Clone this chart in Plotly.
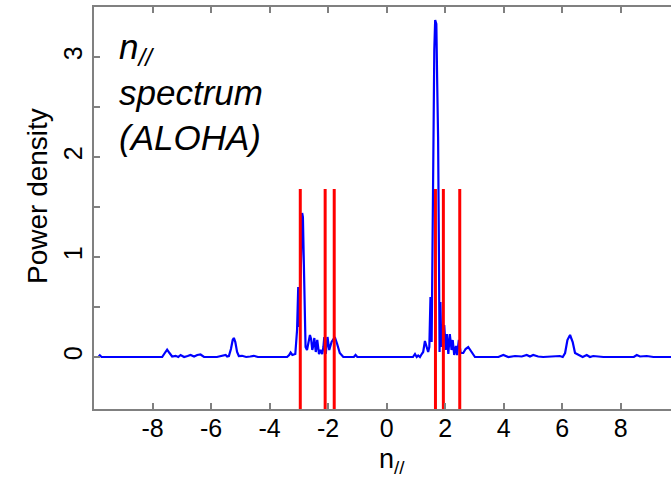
import plotly.graph_objects as go

# ---- data ----
n_par = [-10.0, -9.85, -9.80, -9.74, -9.6, -7.67, -7.58, -7.50, -7.42, -7.33, -7.21, -7.12,
         -7.04, -6.92, -6.80, -6.70, -6.58, -6.47, -6.36, -6.24, -5.80, -5.50, -5.45, -5.39,
         -5.32, -5.26, -5.22, -5.17, -5.11, -5.05, -4.94, -4.80, -4.66, -4.54, -4.40, -3.40,
         -3.33, -3.28, -3.22, -3.12, -3.06, -3.02, -2.98, -2.94, -2.91, -2.885, -2.86, -2.84,
         -2.82, -2.80, -2.77, -2.72, -2.68, -2.62, -2.58, -2.54, -2.50, -2.47, -2.42, -2.37,
         -2.31, -2.26, -2.20, -2.16, -2.13, -2.08, -2.02, -1.96, -1.88, -1.82, -1.77, -1.69,
         -1.60, -1.48, -1.30, -1.12, -1.06, -1.00, -0.90,
         0.90, 0.97, 1.03, 1.08, 1.14, 1.20, 1.25, 1.31, 1.37, 1.42, 1.46, 1.50, 1.54, 1.57,
         1.60, 1.63, 1.66, 1.70, 1.73, 1.76, 1.79, 1.81, 1.84, 1.87, 1.90, 1.94, 1.97, 2.02,
         2.06, 2.11, 2.16, 2.22, 2.26, 2.31, 2.37, 2.41, 2.47, 2.53, 2.62, 2.70, 2.79, 2.91,
         3.02, 3.82, 3.99, 4.16, 4.39, 4.62, 4.79, 4.90, 5.01, 5.18, 5.35, 5.92, 6.02, 6.10,
         6.18, 6.27, 6.36, 6.44, 6.61, 6.70, 6.84, 6.95, 7.06, 7.41, 8.45, 8.55, 8.66, 8.89,
         9.12, 10.0]
power = [0.0, 0.0, 0.017, 0.0, 0.0, 0.0, 0.04, 0.074, 0.04, 0.005, 0.012, 0.0,
         0.02, 0.0, 0.01, 0.02, 0.005, 0.02, 0.025, 0.0, 0.0, 0.02, 0.005, 0.01,
         0.08, 0.17, 0.19, 0.15, 0.05, 0.01, 0.012, 0.0, 0.005, 0.012, 0.0, 0.0,
         0.02, 0.045, 0.02, 0.03, 0.27, 0.70, 0.30, 0.95, 1.30, 1.44, 1.40, 1.05,
         0.57, 0.30, 0.10, 0.07, 0.13, 0.22, 0.18, 0.07, 0.12, 0.19, 0.05, 0.17,
         0.03, 0.07, 0.03, 0.10, 0.20, 0.03, 0.20, 0.07, 0.15, 0.18, 0.20, 0.13,
         0.04, 0.0, 0.0, 0.0, 0.02, 0.0, 0.0,
         0.0, 0.03, 0.0, 0.015, 0.0, 0.03, 0.05, 0.16, 0.10, 0.05, 0.10, 0.60, 0.15, 1.20,
         2.10, 3.07, 3.37, 3.33, 2.73, 2.20, 1.00, 0.05, 0.55, 0.10, 0.32, 0.25, 0.32, 0.07,
         0.23, 0.03, 0.23, 0.07, 0.17, 0.02, 0.11, 0.02, 0.17, 0.04, 0.04, 0.08, 0.10, 0.05,
         0.0, 0.0, 0.02, 0.0, 0.01, 0.005, 0.02, 0.005, 0.02, 0.005, 0.0, 0.01, 0.0, 0.04,
         0.17, 0.22, 0.15, 0.04, 0.01, 0.0, 0.02, 0.0, 0.01, 0.0, 0.0, 0.02, 0.005, 0.01,
         0.0, 0.0]

red_lines_x = [-2.95, -2.10, -1.79, 1.67, 1.94, 2.50]
red_top = 1.68
red_bottom = -0.6

x_tick_vals = [-8, -6, -4, -2, 0, 2, 4, 6, 8]
x_tick_text = ["-8", "-6", "-4", "-2", "0", "2", "4", "6", "8"]
y_tick_vals = [0, 1, 2, 3]
y_tick_text = ["0", "1", "2", "3"]
y_minor_vals = [0.5, 1.5, 2.5]

x_range = [-10, 9.72]
y_range = [-0.52, 3.5]

FONT = "Liberation Sans, Arial, sans-serif"
AX = "#808080"

fig = go.Figure()
fig.add_trace(go.Scatter(x=n_par, y=power, mode="lines",
                         line=dict(color="#0000ff", width=2.2), hoverinfo="skip"))

rx, ry = [], []
for v in red_lines_x:
    rx += [v, v, None]
    ry += [red_bottom, red_top, None]
fig.add_trace(go.Scatter(x=rx, y=ry, mode="lines",
                         line=dict(color="#ff0000", width=3), hoverinfo="skip"))

fig.update_layout(
    width=671, height=477,
    margin=dict(l=94, r=0, t=7, b=68),
    plot_bgcolor="white", paper_bgcolor="white",
    showlegend=False,
    font=dict(family=FONT, color="black"),
    xaxis=dict(range=x_range, tickvals=x_tick_vals, ticktext=x_tick_text,
               ticks="inside", ticklen=6, tickwidth=1.5, tickcolor=AX,
               showline=True, linecolor=AX, linewidth=2, mirror="ticks",
               showgrid=False, zeroline=False, ticklabelstandoff=-4,
               tickfont=dict(size=25, family=FONT, color="black")),
    yaxis=dict(range=y_range, tickvals=y_tick_vals, ticktext=y_tick_text,
               ticks="inside", ticklen=6, tickwidth=1.5, tickcolor=AX,
               minor=dict(tickvals=y_minor_vals, ticks="inside", ticklen=6,
                          tickwidth=1.5, tickcolor=AX, showgrid=False),
               showline=True, linecolor=AX, linewidth=2,
               showgrid=False, zeroline=False, tickangle=-90,
               tickfont=dict(size=25, family=FONT, color="black")),
)

fig.add_annotation(text="Power density", xref="paper", yref="paper",
                   x=(37 - 94) / 577, y=(409 - 196) / 402, textangle=-90,
                   showarrow=False, font=dict(size=28, family=FONT, color="black"),
                   xanchor="center", yanchor="middle")
fig.add_annotation(text="n<sub>//</sub>", xref="paper", yref="paper",
                   x=(392 - 94) / 577, y=(409 - 461) / 402,
                   showarrow=False, font=dict(size=27, family=FONT, color="black"),
                   xanchor="center", yanchor="middle")
fig.add_annotation(text="<i>n<sub>//</sub><br>spectrum<br>(ALOHA)</i>",
                   xref="paper", yref="paper",
                   x=(117 - 94) / 577, y=(409 - 25) / 402,
                   showarrow=False, align="left",
                   font=dict(size=35, family=FONT, color="black"),
                   xanchor="left", yanchor="top")

fig.write_html("out.html")
